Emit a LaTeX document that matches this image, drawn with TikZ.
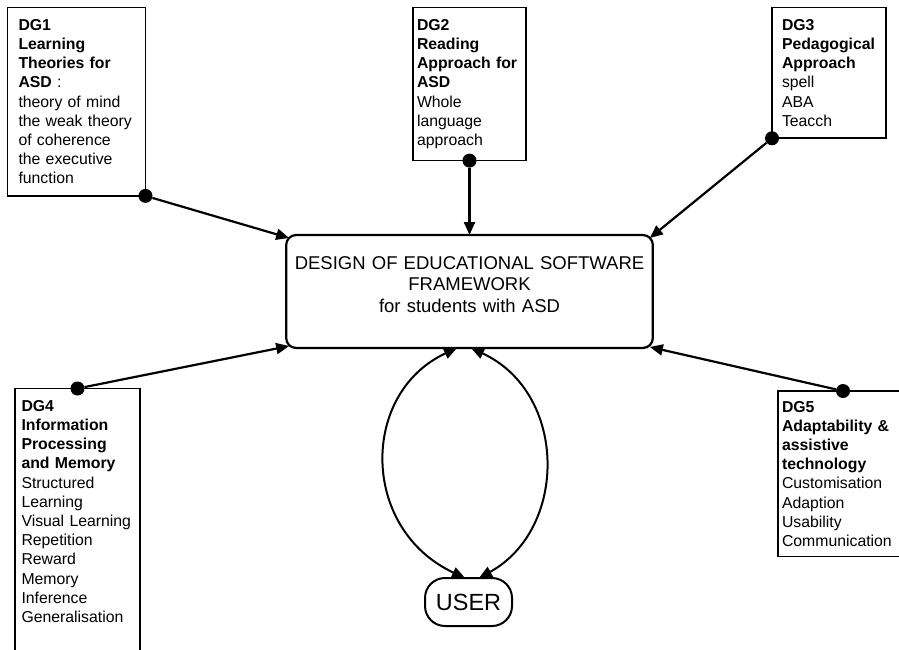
\documentclass[tikz,border=0pt]{standalone}
\usepackage{fontspec}
\setmainfont{Liberation Sans}
\usetikzlibrary{arrows.meta,positioning,calc}

\newcommand{\dgfont}{\fontsize{15.8}{19.2}\selectfont}

\begin{document}
\begin{tikzpicture}[
    x=1pt, y=-1pt,
    >={Triangle[length=13pt,width=11pt]},
    dg box/.style={draw, line width=1.6pt, anchor=north west, align=left, outer sep=0pt, inner ysep=11.8pt, font=\dgfont},
    hub dot/.style={circle, fill=black, inner sep=0pt, minimum size=14pt},
    feed arrow/.style={->, line width=2.2pt},
    cycle arrow/.style={<->, line width=2pt},
]
\useasboundingbox (0,0) rectangle (899,650);
\clip (0,0) rectangle (899,650);

% === Design guideline boxes ===
\node[dg box, inner xsep=11pt, text width=116pt] (dg1) at (7.5,7.5)
    {{\bfseries DG1\\Learning\\Theories for\\ASD} :\\theory of mind\\the weak theory\\of coherence\\the executive\\function};
\node[dg box, inner xsep=4pt, text width=105pt] (dg2) at (413,7.5)
    {{\bfseries DG2\\Reading\\Approach for\\ASD}\\Whole\\language\\approach};
\node[dg box, inner xsep=10pt, text width=94pt] (dg3) at (772,7.5)
    {{\bfseries DG3\\Pedagogical\\Approach}\\spell\\ABA\\Teacch};
\node[dg box, inner xsep=6.5pt, text width=112pt] (dg4) at (15,388.5)
    {{\bfseries DG4\\Information\\Processing\\and Memory}\\Structured\\Learning\\Visual Learning\\Repetition\\Reward\\Memory\\Inference\\Generalisation\\[15pt]~};
\node[dg box, inner xsep=4pt, text width=122pt, inner ysep=10pt] (dg5) at (778,391)
    {{\bfseries DG5\\Adaptability \&\\assistive\\technology}\\Customisation\\Adaption\\Usability\\Communication};

% === Framework ===
\node[draw, line width=2.2pt, rounded corners=10pt, outer sep=0pt,
      minimum width=365pt, minimum height=113pt, text width=360pt, text depth=57pt,
      align=center, font=\fontsize{18.5}{21.5}\selectfont] (frame) at (469.5,291.5)
    {DESIGN OF EDUCATIONAL SOFTWARE\\FRAMEWORK\\for students with ASD};

\node[draw, line width=2pt, rounded corners=20pt, outer sep=0pt,
      minimum width=87pt, minimum height=48pt,
      font=\fontsize{23.4}{28}\selectfont] (user) at (468.5,602) {USER};

% Connector dots
\node[hub dot] (d1) at (dg1.south east) {};
\node[hub dot] (d2) at (dg2.south) {};
\node[hub dot] (d3) at (dg3.south west) {};
\node[hub dot] (d4) at (dg4.north) {};
\node[hub dot] (d5) at (dg5.north) {};

% Guideline arrows
\draw[feed arrow] (d1) -- ([shift={(3,3)}]frame.north west);
\draw[feed arrow] (d2) -- (frame.north);
\draw[feed arrow] (d3) -- ([shift={(-3,3)}]frame.north east);
\draw[feed arrow] (d4) -- ([shift={(3,-2)}]frame.south west);
\draw[feed arrow] (d5) -- ([shift={(-3,-1)}]frame.south east);

% User loop
\draw[cycle arrow] ([xshift=-12.5pt]frame.south) .. controls (360,393) and (360,529) .. ([xshift=-3.5pt]user.north);
\draw[cycle arrow] ([xshift=1.5pt]frame.south) .. controls (568,393) and (568,529) .. ([xshift=10.5pt]user.north);

\end{tikzpicture}
\end{document}
